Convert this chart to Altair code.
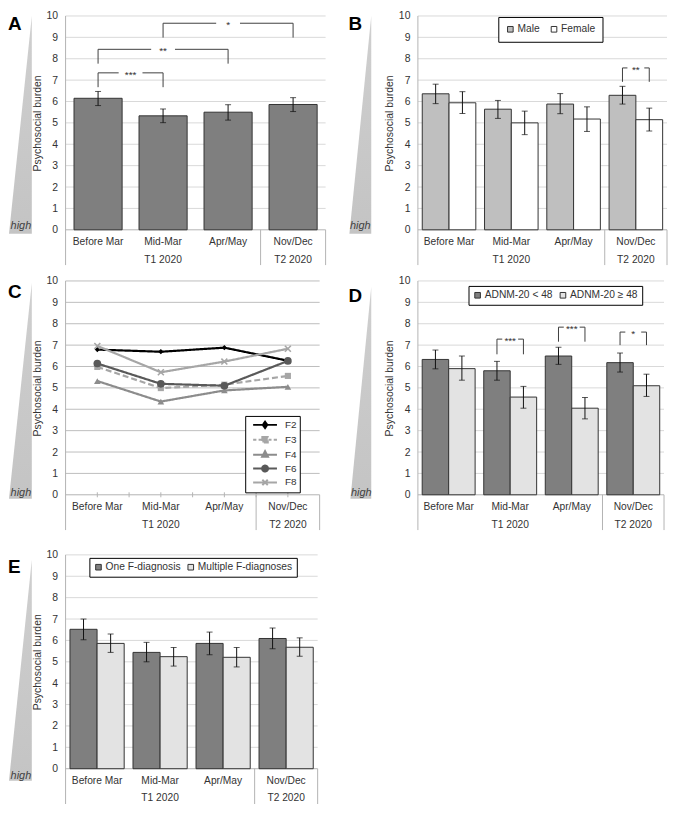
import altair as alt
import pandas as pd

FONT = "Liberation Sans"
TXT = "#333333"
GRID = "#d9d9d9"
GRID_C = "#bdbdbd"
AXIS_LINE = "#b3b3b3"
EDGE = "#333333"
BRK = "#404040"

# ---------------- data ----------------
CATS = ["Before Mar", "Mid-Mar", "Apr/May", "Nov/Dec"]
PERIOD_OF_CAT = ["T1 2020", "T1 2020", "T1 2020", "T2 2020"]
Y_TICKS = [0, 1, 2, 3, 4, 5, 6, 7, 8, 9, 10]
Y_TITLE = "Psychosocial burden"
HIGH_LABEL = "high"

# A
A_MEAN = [6.15, 5.33, 5.50, 5.86]
A_LO = [5.81, 5.01, 5.13, 5.53]
A_HI = [6.47, 5.65, 5.85, 6.18]
A_SIG_FROM = ["Before Mar", "Before Mar", "Mid-Mar"]
A_SIG_TO = ["Mid-Mar", "Apr/May", "Nov/Dec"]
A_SIG_TOP = [7.34, 8.44, 9.66]
A_SIG_LEG = [6.67, 7.77, 8.99]
A_SIG_TEXT = ["***", "**", "*"]

# B
B_LABELS = ["Male", "Female"]
B_MALE_MEAN = [6.36, 5.64, 5.88, 6.29]
B_MALE_LO = [5.90, 5.21, 5.43, 5.88]
B_MALE_HI = [6.81, 6.05, 6.37, 6.71]
B_FEMALE_MEAN = [5.94, 5.00, 5.18, 5.15]
B_FEMALE_LO = [5.44, 4.45, 4.60, 4.62]
B_FEMALE_HI = [6.46, 5.55, 5.75, 5.69]
B_SIG_CAT = ["Nov/Dec"]
B_SIG_TOP = [7.57]
B_SIG_LEG = [6.92]
B_SIG_TEXT = ["**"]

# C
C_SERIES = ["F2", "F3", "F4", "F6", "F8"]
C_F2 = [6.79, 6.69, 6.88, 6.27]
C_F3 = [5.98, 4.99, 5.15, 5.56]
C_F4 = [5.32, 4.36, 4.88, 5.05]
C_F6 = [6.14, 5.19, 5.10, 6.26]
C_F8 = [6.96, 5.73, 6.23, 6.83]

# D
D_LABELS = ["ADNM-20 < 48", "ADNM-20 \u2265 48"]
D_LOW_MEAN = [6.33, 5.80, 6.49, 6.18]
D_LOW_LO = [5.89, 5.36, 6.10, 5.74]
D_LOW_HI = [6.77, 6.24, 6.90, 6.63]
D_HIGH_MEAN = [5.90, 4.57, 4.05, 5.10]
D_HIGH_LO = [5.36, 4.05, 3.55, 4.60]
D_HIGH_HI = [6.49, 5.07, 4.55, 5.64]
D_SIG_CAT = ["Mid-Mar", "Apr/May", "Nov/Dec"]
D_SIG_TOP = [7.28, 7.84, 7.61]
D_SIG_LEG = [6.57, 7.16, 7.00]
D_SIG_TEXT = ["***", "***", "*"]

# E
E_LABELS = ["One F-diagnosis", "Multiple F-diagnoses"]
E_ONE_MEAN = [6.52, 5.44, 5.86, 6.09]
E_ONE_LO = [6.03, 5.00, 5.33, 5.61]
E_ONE_HI = [7.00, 5.91, 6.39, 6.58]
E_MULTI_MEAN = [5.86, 5.24, 5.21, 5.68]
E_MULTI_LO = [5.44, 4.80, 4.76, 5.26]
E_MULTI_HI = [6.30, 5.67, 5.67, 6.12]

# ---------------- layout / style ----------------
YMIN, YMAX = -1.65, 10.0
H = 251
UNIT = H / (YMAX - YMIN)
W_A, W_B, W_C, W_D, W_E = 262, 251, 256, 248, 254
XS = alt.Scale(domain=[0, 4], nice=False, zero=False)
YS = alt.Scale(domain=[YMIN, YMAX], nice=False, zero=False)

YAXIS = alt.Axis(values=Y_TICKS, grid=False, domain=False, ticks=False, tickSize=0,
                 labelPadding=8, labelFontSize=10.5, labelColor=TXT, labelFont=FONT,
                 title=Y_TITLE, titleFontSize=10.5, titleFontWeight="normal", titleColor=TXT,
                 titleFont=FONT, titlePadding=4, titleY=(YMAX - 5) * UNIT)

TRI_FILL = alt.LinearGradient(gradient="linear",
                              stops=[alt.GradientStop(color="#cfcfcf", offset=0),
                                     alt.GradientStop(color="#c4c4c4", offset=1)],
                              x1=0, x2=0, y1=0, y2=1)

DECO = {
    "A": dict(ldx=-58, ldy=-1, tri=(-57, -34), tri_top=0, tri_bot=4, hdx=-45, hdy=-4),
    "B": dict(ldx=-70, ldy=-1, tri=(-69, -47), tri_top=0, tri_bot=4, hdx=-58, hdy=-4),
    "C": dict(ldx=-58, ldy=2, tri=(-57, -34), tri_top=2, tri_bot=4, hdx=-45, hdy=-2),
    "D": dict(ldx=-70, ldy=6, tri=(-68, -47), tri_top=6, tri_bot=4, hdx=-57, hdy=-2),
    "E": dict(ldx=-58, ldy=3, tri=(-57, -34), tri_top=5, tri_bot=12, hdx=-45, hdy=7),
}


def xq(f):
    return alt.X(f, scale=XS, axis=None)


def yq(f):
    return alt.Y(f, scale=YS, axis=YAXIS)


def yd(v):
    return alt.Y(datum=v, scale=YS, axis=YAXIS)


def frame_layers(W, letter, grid_color, minor_ticks=False):
    d = DECO[letter]
    ppx = W / 4.0
    L = []
    L.append(alt.Chart(pd.DataFrame({"v": Y_TICKS[1:]})).mark_rule(color=grid_color, strokeWidth=1)
             .encode(y=yq("v:Q")))
    L.append(alt.Chart(pd.DataFrame({"v": [0]})).mark_rule(color=AXIS_LINE, strokeWidth=1)
             .encode(y=yq("v:Q")))
    bnd = [0] + [i for i in range(1, len(CATS)) if PERIOD_OF_CAT[i] != PERIOD_OF_CAT[i - 1]] + [len(CATS)]
    sep = pd.DataFrame({"x": bnd, "y": [YMIN] * len(bnd), "y2": [YMAX] + [0] * (len(bnd) - 1)})
    L.append(alt.Chart(sep).mark_rule(color=AXIS_LINE, strokeWidth=1)
             .encode(x=xq("x:Q"), y=yq("y:Q"), y2="y2:Q"))
    if minor_ticks:
        tk = pd.DataFrame({"x": [k / 2 for k in range(1, 2 * len(CATS))]})
        L.append(alt.Chart(tk).mark_rule(color=AXIS_LINE, strokeWidth=1)
                 .encode(x=xq("x:Q"), y=yd(2.5 / UNIT), y2=alt.datum(-2.5 / UNIT)))
    cat_df = pd.DataFrame({"cat": CATS, "xc": [i + 0.5 for i in range(len(CATS))]})
    L.append(alt.Chart(cat_df).mark_text(dy=12, fontSize=10.3, color=TXT, font=FONT)
             .encode(x=xq("xc:Q"), y=yd(0), text="cat:N"))
    pn, px = [], []
    for p in dict.fromkeys(PERIOD_OF_CAT):
        idx = [i for i, q in enumerate(PERIOD_OF_CAT) if q == p]
        pn.append(p)
        px.append((min(idx) + max(idx) + 1) / 2)
    L.append(alt.Chart(pd.DataFrame({"p": pn, "xc": px})).mark_text(dy=30, fontSize=10.3, color=TXT, font=FONT)
             .encode(x=xq("xc:Q"), y=yd(0), text="p:N"))
    tl, tr = d["tri"][0] / ppx, d["tri"][1] / ppx
    tt = YMAX - d["tri_top"] / UNIT
    tb = -d["tri_bot"] / UNIT
    tri = pd.DataFrame({"x": [tl, tr], "y": [tb, tt], "y2": [tb, tb]})
    L.append(alt.Chart(tri).mark_area(color=TRI_FILL, interpolate="linear")
             .encode(x=xq("x:Q"), y=yq("y:Q"), y2="y2:Q"))
    L.append(alt.Chart(pd.DataFrame({"t": [HIGH_LABEL]}))
             .mark_text(dx=d["hdx"], dy=d["hdy"], fontSize=11, fontStyle="italic", color="#404040", font=FONT)
             .encode(x=alt.X(datum=0, scale=XS, axis=None), y=yd(0), text="t:N"))
    L.append(alt.Chart(pd.DataFrame({"t": [letter]}))
             .mark_text(dx=d["ldx"], dy=d["ldy"], align="left", baseline="top", fontSize=19,
                        fontWeight="bold", color="#000000", font=FONT)
             .encode(x=alt.X(datum=0, scale=XS, axis=None), y=yd(YMAX), text="t:N"))
    return L


def bar_layers(groups, colors, means, los, his, offsets, bw, legend):
    rows = []
    for k, g in enumerate(groups):
        for i, c in enumerate(CATS):
            xc = i + 0.5 + offsets[k]
            rows.append({"grp": g, "cat": c, "xc": xc, "x0": xc - bw / 2, "x1": xc + bw / 2,
                         "m": means[k][i], "lo": los[k][i], "hi": his[k][i]})
    df = pd.DataFrame(rows)
    base = alt.Chart(df)
    col = alt.Color("grp:N", scale=alt.Scale(domain=groups, range=colors),
                    legend=legend if legend is not None else None)
    L = [
        base.mark_rect(stroke=EDGE, strokeWidth=1).encode(
            x=xq("x0:Q"), x2="x1:Q", y=yq("m:Q"), y2=alt.datum(0), color=col),
        base.mark_rule(color="#111111", strokeWidth=1).encode(x=xq("xc:Q"), y=yq("lo:Q"), y2="hi:Q"),
        base.mark_tick(orient="horizontal", size=6, thickness=1, color="#111111").encode(
            x=xq("xc:Q"), y=yq("lo:Q")),
        base.mark_tick(orient="horizontal", size=6, thickness=1, color="#111111").encode(
            x=xq("xc:Q"), y=yq("hi:Q")),
    ]
    return L


def bracket_layers(xa, xb, tops, legs, texts, gap_px, W):
    g = gap_px / (W / 4.0)
    seg, lab = [], []
    for a, b, t, l, s in zip(xa, xb, tops, legs, texts):
        m = (a + b) / 2
        seg += [
            {"x": a, "x2": a, "y": l, "y2": t},
            {"x": b, "x2": b, "y": l, "y2": t},
            {"x": a, "x2": m - g / 2, "y": t, "y2": t},
            {"x": m + g / 2, "x2": b, "y": t, "y2": t},
        ]
        lab.append({"x": m, "y": t, "s": s})
    return [
        alt.Chart(pd.DataFrame(seg)).mark_rule(color=BRK, strokeWidth=1).encode(
            x=xq("x:Q"), x2="x2:Q", y=yq("y:Q"), y2="y2:Q"),
        alt.Chart(pd.DataFrame(lab)).mark_text(dy=2, fontSize=10, color=TXT, font=FONT).encode(
            x=xq("x:Q"), y=yq("y:Q"), text="s:N"),
    ]


def bar_legend(lx, ly, pad, cpad):
    return alt.Legend(orient="none", legendX=lx, legendY=ly, direction="horizontal", title=None,
                      symbolType="square", symbolSize=32, symbolStrokeColor=EDGE, symbolStrokeWidth=1,
                      labelFontSize=10.3, labelColor=TXT, labelFont=FONT, strokeColor="#000000",
                      fillColor="#ffffff", padding=pad, columnPadding=cpad, labelOffset=2)


PAIR_OFF = [-0.215, 0.215]
PAIR_BW = 0.43

# ---- panel A
a_idx = {c: i for i, c in enumerate(CATS)}
panel_a = alt.layer(
    *frame_layers(W_A, "A", GRID),
    *bar_layers(["all"], ["#7f7f7f"], [A_MEAN], [A_LO], [A_HI], [0.0], 0.74, None),
    *bracket_layers([a_idx[c] + 0.5 for c in A_SIG_FROM], [a_idx[c] + 0.5 for c in A_SIG_TO],
                    A_SIG_TOP, A_SIG_LEG, A_SIG_TEXT, 24, W_A),
).properties(width=W_A, height=H)

# ---- panel B
panel_b = alt.layer(
    *frame_layers(W_B, "B", GRID),
    *bar_layers(B_LABELS, ["#bfbfbf", "#ffffff"], [B_MALE_MEAN, B_FEMALE_MEAN],
                [B_MALE_LO, B_FEMALE_LO], [B_MALE_HI, B_FEMALE_HI], PAIR_OFF, PAIR_BW,
                bar_legend(81, 1, 7, 9)),
    *bracket_layers([a_idx[c] + 0.5 + PAIR_OFF[0] for c in B_SIG_CAT],
                    [a_idx[c] + 0.5 + PAIR_OFF[1] for c in B_SIG_CAT],
                    B_SIG_TOP, B_SIG_LEG, B_SIG_TEXT, 17, W_B),
).properties(width=W_B, height=H)

# ---- panel C
C_VALUES = [C_F2, C_F3, C_F4, C_F6, C_F8]
C_COLORS = ["#000000", "#a6a6a6", "#8c8c8c", "#595959", "#a6a6a6"]
C_FILLS = ["#000000", "#a6a6a6", "#8c8c8c", "#595959", "#ffffff"]
C_DASHES = [[1, 0], [6, 3], [1, 0], [1, 0], [1, 0]]
X_PATH = "M-1,-1L1,1M-1,1L1,-1"
C_MARK = [("diamond", 28, True), ("square", 38, True), ("triangle-up", 45, True),
          ("circle", 60, True), (X_PATH, 36, False)]
LINE = "M-2.4,0L2.4,0"
DASHED = "M-2.4,0L-1.75,0M-1.3,0L-0.7,0M0.7,0L1.3,0M1.75,0L2.4,0"
C_LEG_PATHS = [
    LINE + "M0,-0.65L0.45,0L0,0.65L-0.45,0Z",
    DASHED + "M-0.55,-0.55L0.55,-0.55L0.55,0.55L-0.55,0.55Z",
    LINE + "M0,-0.7L0.6,0.45L-0.6,0.45Z",
    LINE + "M-0.6,0A0.6,0.6,0,1,0,0.6,0A0.6,0.6,0,1,0,-0.6,0Z",
    LINE + "M-0.55,-0.55L0.55,0.55M-0.55,0.55L0.55,-0.55",
]
c_rows = []
for s, vals in zip(C_SERIES, C_VALUES):
    for i, v in enumerate(vals):
        c_rows.append({"series": s, "xc": i + 0.5, "val": v})
c_df = pd.DataFrame(c_rows)
c_leg = alt.Legend(orient="none", legendX=181, legendY=136, direction="vertical", title=None,
                   symbolSize=100, symbolStrokeWidth=2, symbolOpacity=1, symbolOffset=11,
                   labelOffset=14, labelFontSize=10, labelColor=TXT, labelFont=FONT,
                   rowPadding=0, padding=3, strokeColor="#000000", fillColor="#ffffff")
c_color = alt.Color("series:N", scale=alt.Scale(domain=C_SERIES, range=C_COLORS), legend=c_leg)
c_layers = frame_layers(W_C, "C", GRID_C, minor_ticks=True)
c_layers.append(alt.Chart(c_df).mark_point(opacity=0, filled=False).encode(
    x=xq("xc:Q"), y=yq("val:Q"), color=c_color,
    fill=alt.Fill("series:N", scale=alt.Scale(domain=C_SERIES, range=C_FILLS), legend=c_leg),
    shape=alt.Shape("series:N", scale=alt.Scale(domain=C_SERIES, range=C_LEG_PATHS), legend=c_leg)))
c_layers.append(alt.Chart(c_df).mark_line(strokeWidth=2.2).encode(
    x=xq("xc:Q"), y=yq("val:Q"), color=c_color,
    strokeDash=alt.StrokeDash("series:N", scale=alt.Scale(domain=C_SERIES, range=C_DASHES), legend=None)))
for s, (shp, sz, fl) in zip(C_SERIES, C_MARK):
    c_layers.append(alt.Chart(c_df).transform_filter(alt.datum.series == s)
                    .mark_point(shape=shp, size=sz, filled=fl, opacity=1, strokeWidth=1.6)
                    .encode(x=xq("xc:Q"), y=yq("val:Q"), color=c_color))
panel_c = alt.layer(*c_layers).properties(width=W_C, height=H)

# ---- panel D
panel_d = alt.layer(
    *frame_layers(W_D, "D", GRID),
    *bar_layers(D_LABELS, ["#7f7f7f", "#e3e3e3"], [D_LOW_MEAN, D_HIGH_MEAN],
                [D_LOW_LO, D_HIGH_LO], [D_LOW_HI, D_HIGH_HI], PAIR_OFF, PAIR_BW,
                bar_legend(51, 5, 4, 5)),
    *bracket_layers([a_idx[c] + 0.5 + PAIR_OFF[0] for c in D_SIG_CAT],
                    [a_idx[c] + 0.5 + PAIR_OFF[1] for c in D_SIG_CAT],
                    D_SIG_TOP, D_SIG_LEG, D_SIG_TEXT, 16, W_D),
).properties(width=W_D, height=H)

# ---- panel E
panel_e = alt.layer(
    *frame_layers(W_E, "E", GRID),
    *bar_layers(E_LABELS, ["#7f7f7f", "#e3e3e3"], [E_ONE_MEAN, E_MULTI_MEAN],
                [E_ONE_LO, E_MULTI_LO], [E_ONE_HI, E_MULTI_HI], PAIR_OFF, PAIR_BW,
                bar_legend(24, 3, 4, 5)),
).properties(width=W_E, height=H)

RES = dict(color="independent", stroke="independent", fill="independent",
           shape="independent", strokeDash="independent")

row1 = alt.hconcat(panel_a, panel_b, spacing=22).resolve_scale(**RES)
row2 = alt.hconcat(panel_c, panel_d, spacing=28).resolve_scale(**RES)
top = alt.vconcat(row1, row2, spacing=10).resolve_scale(**RES)
chart = (alt.vconcat(top, panel_e, spacing=19).resolve_scale(**RES)
         .properties(padding=0, background="#ffffff")
         .configure(font=FONT)
         .configure_view(stroke=None))

chart.save("out.html", embed_options={"renderer": "svg", "actions": False})
